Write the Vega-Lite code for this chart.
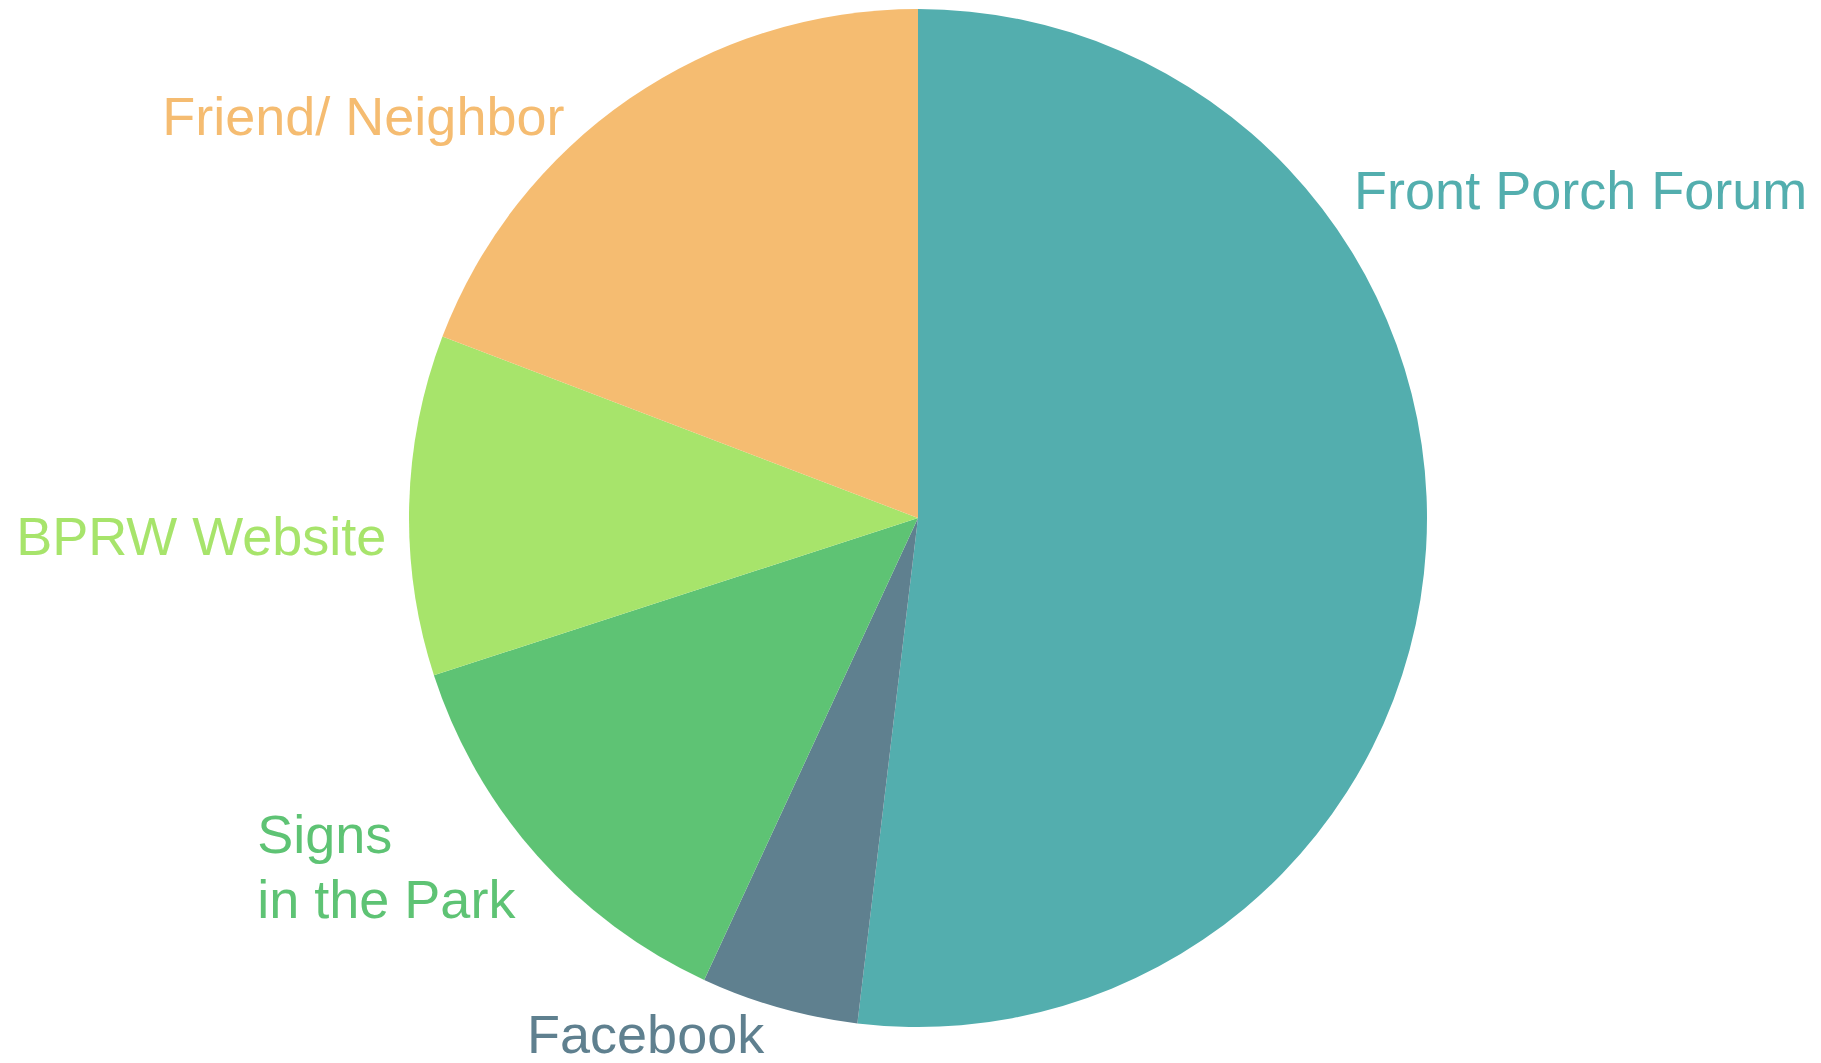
{
  "$schema": "https://vega.github.io/schema/vega-lite/v6.json",
  "width": 1806,
  "height": 1036,
  "autosize": "none",
  "padding": {"left": 15, "right": 0, "top": 0, "bottom": 27},
  "background": "white",
  "view": {"stroke": null},
  "data": {
    "values": [
      {"label": "Front Porch Forum", "value": 51.9, "ord": 1},
      {"label": "Facebook", "value": 5.0, "ord": 2},
      {"label": "Signs\nin the Park", "value": 13.1, "ord": 3},
      {"label": "BPRW Website", "value": 10.8, "ord": 4},
      {"label": "Friend/ Neighbor", "value": 19.2, "ord": 5}
    ]
  },
  "encoding": {
    "theta": {"field": "value", "type": "quantitative", "stack": true},
    "order": {"field": "ord", "type": "quantitative"},
    "color": {
      "field": "label",
      "type": "nominal",
      "legend": null,
      "scale": {
        "domain": ["Front Porch Forum", "Facebook", "Signs\nin the Park", "BPRW Website", "Friend/ Neighbor"],
        "range": ["#53AEAE", "#5F808F", "#5EC374", "#A7E46B", "#F5BC71"]
      }
    }
  },
  "layer": [
    {"mark": {"type": "arc", "outerRadius": 509}},
    {
      "mark": {
        "type": "text",
        "radius": 509,
        "align": "left",
        "baseline": "alphabetic",
        "font": "Liberation Sans",
        "fontSize": 54,
        "lineBreak": "\n",
        "lineHeight": 65,
        "dx": {"expr": "datum.label === 'Front Porch Forum' ? -72 : datum.label === 'Facebook' ? -252 : datum.label === 'BPRW Website' ? -393 : datum.label === 'Friend/ Neighbor' ? -467 : -280"},
        "dy": {"expr": "datum.label === 'Front Porch Forum' ? -339 : datum.label === 'Facebook' ? 45 : datum.label === 'BPRW Website' ? 50 : datum.label === 'Friend/ Neighbor' ? 36 : -3"}
      },
      "encoding": {"text": {"field": "label", "type": "nominal"}}
    }
  ]
}
